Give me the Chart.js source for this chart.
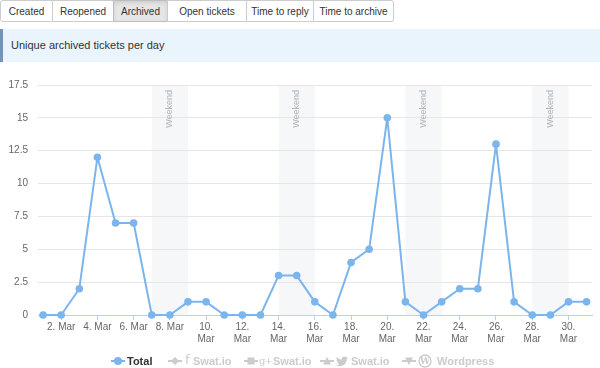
<!DOCTYPE html>
<html><head><meta charset="utf-8">
<script src="https://cdn.jsdelivr.net/npm/chart.js@4/dist/chart.umd.min.js"></script>
<style>
body{margin:0;width:600px;height:368px;overflow:hidden;background:#fff;font-family:"Liberation Sans",Arial,Helvetica,sans-serif;position:relative}
.tab{position:absolute;top:0;box-sizing:border-box;height:22px;border:1px solid #ccc;font-size:10px;color:#333;display:flex;align-items:center;justify-content:center;background:#fff}
.tab.active{background:#e6e6e6;box-shadow:inset 0 2px 4px rgba(0,0,0,0.10);border-color:#bdbdbd}
.hdr{position:absolute;left:0;top:29px;width:600px;height:33px;box-sizing:border-box;background:#eaf4fd;border-left:3px solid #7393bb;font-size:11px;color:#333;line-height:33px;padding-left:8px}
#wrap{position:absolute;left:0;top:69px;width:600px;height:299px}
.lg{position:absolute;top:355px;height:12px;font-size:11px;font-weight:bold;line-height:12px;white-space:nowrap}
.lg svg{display:block}
</style></head>
<body>
<div id="tabs"></div>
<div class="hdr">Unique archived tickets per day</div>
<div id="wrap"><canvas id="c" width="600" height="299"></canvas></div>
<div id="legend"></div>
<script>
// ---- data ----
const days = [1,2,3,4,5,6,7,8,9,10,11,12,13,14,15,16,17,18,19,20,21,22,23,24,25,26,27,28,29,30,31];
const totalValues = [0,0,2,12,7,7,0,0,1,1,0,0,0,3,3,1,0,4,5,15,1,0,1,2,2,13,1,0,0,1,1];
const tickDays = [2,4,6,8,10,12,14,16,18,20,22,24,26,28,30];
const tickLabels = ["2. Mar","4. Mar","6. Mar","8. Mar","10. Mar","12. Mar","14. Mar","16. Mar","18. Mar","20. Mar","22. Mar","24. Mar","26. Mar","28. Mar","30. Mar"];
const yTicks = [0,2.5,5,7.5,10,12.5,15,17.5];
const weekendStarts = [7,14,21,28];
const weekendLength = 2;
const weekendLabel = "Weekend";
const tabNames = ["Created","Reopened","Archived","Open tickets","Time to reply","Time to archive"];
const activeTab = "Archived";
const seriesName = "Total";
const hiddenSeries = ["Swat.io","Swat.io","Swat.io","Wordpress"];

// ---- tabs ----
const tabEdges = [0,52,113,167,246,313,393];
const tabsEl = document.getElementById('tabs');
tabNames.forEach((n,i)=>{
  const d = document.createElement('div');
  d.className = 'tab' + (n===activeTab?' active':'');
  d.textContent = n;
  d.style.left = tabEdges[i] + 'px';
  d.style.width = (tabEdges[i+1]-tabEdges[i]+1) + 'px';
  if(i===0) d.style.borderRadius = '3px 0 0 3px';
  if(i===tabNames.length-1) d.style.borderRadius = '0 3px 3px 0';
  tabsEl.appendChild(d);
});

// ---- legend (HTML) ----
const G = '#cccccc';
const markers = {
  circle:`<svg width="14" height="12"><line x1="0" y1="6" x2="14" y2="6" stroke="#7cb5ec" stroke-width="2"/><circle cx="7" cy="6" r="4" fill="#7cb5ec"/></svg>`,
  diamond:`<svg width="14" height="12"><line x1="0" y1="6" x2="14" y2="6" stroke="${G}" stroke-width="2"/><polygon points="7,2 11,6 7,10 3,6" fill="${G}"/></svg>`,
  square:`<svg width="14" height="12"><line x1="0" y1="6" x2="14" y2="6" stroke="${G}" stroke-width="2"/><rect x="3.5" y="2.5" width="7" height="7" fill="${G}"/></svg>`,
  triangle:`<svg width="14" height="12"><line x1="0" y1="6" x2="14" y2="6" stroke="${G}" stroke-width="2"/><polygon points="7,2 11,9.5 3,9.5" fill="${G}"/></svg>`,
  tdown:`<svg width="14" height="12"><line x1="0" y1="6" x2="14" y2="6" stroke="${G}" stroke-width="2"/><polygon points="3,2.5 11,2.5 7,10" fill="${G}"/></svg>`
};
const icons = {
  fb:`<span style="font-family:'DejaVu Sans';font-size:13px;font-weight:normal;color:${G}">f</span>`,
  gp:`<span style="font-family:'DejaVu Serif';font-size:10px;font-weight:normal;color:${G};letter-spacing:-1px">g+</span>`,
  tw:`<svg width="12" height="11" viewBox="0 0 24 20"><path d="M24 2.4c-.9.4-1.8.7-2.8.8 1-.6 1.8-1.6 2.2-2.7-1 .6-2 1-3.1 1.2C19.3.7 18 .1 16.6.1c-2.7 0-4.9 2.2-4.9 4.9 0 .4 0 .8.1 1.1C7.7 5.900 4.1 4 1.7 1 1.2 1.7 1 2.6 1 3.5c0 1.7.9 3.2 2.2 4.1-.8 0-1.6-.2-2.2-.6v.1c0 2.4 1.7 4.4 3.9 4.8-.4.1-.8.2-1.3.2-.3 0-.6 0-.9-.1.6 2 2.4 3.4 4.6 3.4-1.7 1.3-3.8 2.1-6.1 2.1-.4 0-.8 0-1.2-.1 2.2 1.4 4.8 2.2 7.5 2.2 9.1 0 14-7.5 14-14v-.6c1-.7 1.8-1.6 2.5-2.6z" fill="${G}"/></svg>`,
  wp:`<svg width="14" height="14" viewBox="0 0 14 14"><circle cx="7" cy="7" r="6" fill="none" stroke="${G}" stroke-width="1.3"/><text x="7" y="10.3" text-anchor="middle" font-family="DejaVu Serif" font-size="9" font-weight="bold" fill="${G}">W</text></svg>`
};
const legendItems = [
  {marker:'circle', mx:111, icon:null, ix:0, text:seriesName, tx:127, color:'#333333'},
  {marker:'diamond', mx:168, icon:'fb', ix:185, text:hiddenSeries[0], tx:193, color:G},
  {marker:'square', mx:244, icon:'gp', ix:259, text:hiddenSeries[1], tx:273, color:G},
  {marker:'triangle', mx:320, icon:'tw', ix:336, text:hiddenSeries[2], tx:351, color:G},
  {marker:'tdown', mx:402, icon:'wp', ix:418, text:hiddenSeries[3], tx:437, color:G}
];
const lgEl = document.getElementById('legend');
legendItems.forEach(it=>{
  const m = document.createElement('div'); m.className='lg'; m.style.left=it.mx+'px'; m.innerHTML=markers[it.marker]; lgEl.appendChild(m);
  if(it.icon){ const ic=document.createElement('div'); ic.className='lg'; ic.style.left=it.ix+'px'; ic.style.top=(it.icon==='tw'?356:354)+'px'; ic.innerHTML=icons[it.icon]; lgEl.appendChild(ic); }
  const t = document.createElement('div'); t.className='lg'; t.style.left=it.tx+'px'; t.style.color=it.color; t.textContent=it.text; lgEl.appendChild(t);
});

// ---- chart ----
const bgBand = {
  id:'bgBand',
  beforeDraw(chart){
    const {ctx, chartArea:a, scales:{x}} = chart;
    ctx.save();
    ctx.fillStyle = '#f5f7f9';
    weekendStarts.forEach(s=>{
      const x0 = x.getPixelForValue(s), x1 = x.getPixelForValue(s+weekendLength);
      ctx.fillRect(x0, a.top, x1-x0, a.bottom-a.top);
    });
    ctx.restore();
  },
  beforeDatasetsDraw(chart){
    const {ctx, chartArea:a, scales:{x}} = chart;
    ctx.save();
    weekendStarts.forEach(s=>{
      const x0 = x.getPixelForValue(s), x1 = x.getPixelForValue(s+weekendLength);
      ctx.save();
      ctx.translate((x0+x1)/2, a.top+5);
      ctx.rotate(-Math.PI/2);
      ctx.fillStyle = '#b0b4b9';
      ctx.font = '9px "Liberation Sans", Arial, sans-serif';
      ctx.textAlign = 'right';
      ctx.textBaseline = 'middle';
      ctx.fillText(weekendLabel, 0, 0);
      ctx.restore();
    });
    ctx.restore();
  }
};

new Chart(document.getElementById('c'), {
  type:'line',
  data:{datasets:[{
    label:seriesName,
    data:days.map((d,i)=>({x:d,y:totalValues[i]})),
    borderColor:'#7cb5ec', backgroundColor:'#7cb5ec',
    borderWidth:2, borderJoinStyle:'round', pointRadius:3.8, pointBorderWidth:0, tension:0, clip:false
  }]},
  options:{
    responsive:false, animation:false,
    layout:{padding:{top:16,right:8,left:0,bottom:0}},
    plugins:{legend:{display:false}, tooltip:{enabled:false}},
    scales:{
      x:{
        type:'linear', min:0.72, max:31.3,
        afterBuildTicks(ax){ ax.ticks = tickDays.map(v=>({value:v})); },
        afterFit(ax){ ax.height = 53; },
        grid:{drawOnChartArea:false, tickLength:5, color:'#C0D0E0'},
        border:{color:'#C0D0E0', width:1},
        ticks:{
          autoSkip:false, maxRotation:0, minRotation:0, padding:2,
          color:'#666666', font:{family:'"Liberation Sans", Arial, sans-serif', size:10, lineHeight:1.12},
          callback(v){ const i = tickDays.indexOf(v); if(i<0) return ''; const l = tickLabels[i]; return l.length>6 ? l.split(' ') : l; }
        }
      },
      y:{
        min:0, max:17.5,
        afterBuildTicks(ax){ ax.ticks = yTicks.map(v=>({value:v})); },
        afterFit(ax){ ax.width = 38; },
        grid:{color:'#e6e6e6', drawTicks:false, lineWidth:1},
        border:{display:false},
        ticks:{padding:10, color:'#666666', font:{family:'"Liberation Sans", Arial, sans-serif', size:10}, callback(v){ return String(v); }}
      }
    }
  },
  plugins:[bgBand]
});
</script>
</body></html>
